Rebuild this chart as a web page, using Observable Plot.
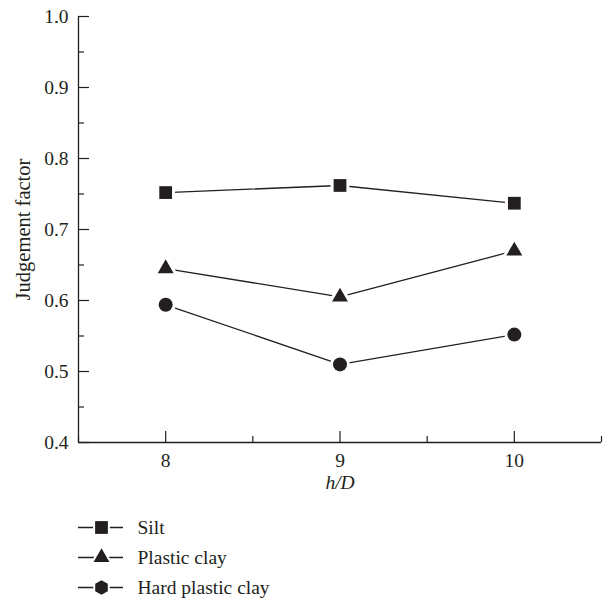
<!DOCTYPE html>
<html>
<head>
<meta charset="utf-8">
<script src="https://cdn.jsdelivr.net/npm/d3@7"></script>
<script src="https://cdn.jsdelivr.net/npm/@observablehq/plot@0.6"></script>
<style>
  html, body { margin: 0; padding: 0; background: #fff; }
  #chart svg { display: block; }
</style>
</head>
<body>
<div id="chart"></div>
<script>
// h/D ratios on the x axis
const hD = [8, 9, 10];

// Judgement factor per soil type
const silt = [0.752, 0.762, 0.737];
const plasticClay = [0.645, 0.605, 0.670];
const hardPlasticClay = [0.594, 0.510, 0.552];

const seriesNames = ["Silt", "Plastic clay", "Hard plastic clay"];

// axis ticks
const xMajorTicks = [8, 9, 10];
const xMinorTicks = [7.5, 8.5, 9.5, 10.5];
const yMajorTicks = [0.4, 0.5, 0.6, 0.7, 0.8, 0.9, 1.0];
const yMinorTicks = [0.45, 0.55, 0.65, 0.75, 0.85, 0.95];

const xDomain = [7.5, 10.5];
const yDomain = [0.4, 1.0];

const ink = "#231f20";
const font = "'Liberation Serif', 'DejaVu Serif', serif";
const fs = 19.5;

// pointy-top hexagon, used for the legend key of hard plastic clay
const hexagon = {
  draw(context, size) {
    const R = Math.sqrt((2 * size) / (3 * Math.sqrt(3)));
    for (let i = 0; i < 6; i++) {
      const a = Math.PI / 2 + (i * Math.PI) / 3;
      const px = R * Math.cos(a), py = R * Math.sin(a);
      if (i === 0) context.moveTo(px, py); else context.lineTo(px, py);
    }
    context.closePath();
  }
};

const series = [
  {name: seriesNames[0], values: silt, symbol: "square", r: 7.2},
  {name: seriesNames[1], values: plasticClay, symbol: "triangle", r: 5.9},
  {name: seriesNames[2], values: hardPlasticClay, symbol: "circle", r: 7}
];

const rows = series.flatMap(s => s.values.map((v, i) => ({series: s.name, hD: hD[i], value: v})));

const seriesMarks = series.flatMap(s => {
  const data = rows.filter(d => d.series === s.name);
  return [
    Plot.line(data, {x: "hD", y: "value", stroke: ink, strokeWidth: 1.3}),
    Plot.dot(data, {
      x: "hD", y: "value", symbol: () => s.symbol, r: s.r,
      fill: ink, stroke: "white", strokeWidth: 6, paintOrder: "stroke"
    })
  ];
});

const chart = Plot.plot({
  width: 608,
  height: 500,
  marginLeft: 78,
  marginRight: 7,
  marginTop: 16,
  marginBottom: 58,
  style: {fontFamily: font, fontSize: fs + "px", color: ink, background: "white"},
  x: {domain: xDomain},
  y: {domain: yDomain},
  symbol: {type: "identity"},
  marks: [
    // inward major and minor ticks
    Plot.axisX(xMajorTicks, {tickSize: -11, text: null, stroke: ink, strokeWidth: 1.2, label: null}),
    Plot.axisX(xMinorTicks, {tickSize: -6, text: null, stroke: ink, strokeWidth: 1.2, label: null}),
    Plot.axisY(yMajorTicks, {tickSize: -11, text: null, stroke: ink, strokeWidth: 1.2, label: null}),
    Plot.axisY(yMinorTicks, {tickSize: -6, text: null, stroke: ink, strokeWidth: 1.2, label: null}),
    // tick labels
    Plot.axisX(xMajorTicks, {tickSize: 0, tickPadding: 11, fill: ink, fontSize: fs, label: null, tickFormat: d => String(d)}),
    Plot.axisY(yMajorTicks, {tickSize: 0, tickPadding: 10, fill: ink, fontSize: fs, label: null, tickFormat: d3.format(".1f")}),
    // axis lines
    Plot.ruleX([xDomain[0]], {y1: yDomain[0], y2: yDomain[1], stroke: ink, strokeWidth: 1.3}),
    Plot.ruleY([yDomain[0]], {x1: xDomain[0], x2: xDomain[1], stroke: ink, strokeWidth: 1.3}),
    // axis titles
    Plot.text(["h/D"], {frameAnchor: "bottom", lineAnchor: "middle", dy: 40, fontStyle: "italic", fontSize: fs, fill: ink}),
    Plot.text(["Judgement factor"], {frameAnchor: "left", textAnchor: "middle", lineAnchor: "middle", dx: -55, rotate: -90, fontSize: 20.5, fill: ink}),
    ...seriesMarks
  ]
});

// legend below the chart
const legendSymbols = ["square", "triangle", hexagon];
const legendR = [7.2, 5.9, 6.6];
const legend = Plot.plot({
  width: 608,
  height: 103,
  margin: 0,
  style: {fontFamily: font, fontSize: fs + "px", color: ink, background: "white"},
  x: {domain: [0, 608], range: [0, 608], axis: null},
  y: {type: "point", domain: seriesNames, range: [27, 87], padding: 0, axis: null},
  symbol: {type: "identity"},
  marks: [
    Plot.ruleY(seriesNames, {y: d => d, x1: 78, x2: 123, stroke: ink, strokeWidth: 1.3}),
    ...seriesNames.map((name, i) => Plot.dot([name], {
      y: d => d, x: 101, symbol: () => legendSymbols[i], r: legendR[i],
      fill: ink, stroke: "white", strokeWidth: 4, paintOrder: "stroke"
    })),
    Plot.text(seriesNames, {y: d => d, x: 137, text: d => d, textAnchor: "start", fontSize: fs, fill: ink})
  ]
});

const root = document.getElementById("chart");
root.appendChild(chart);
root.appendChild(legend);
</script>
</body>
</html>
